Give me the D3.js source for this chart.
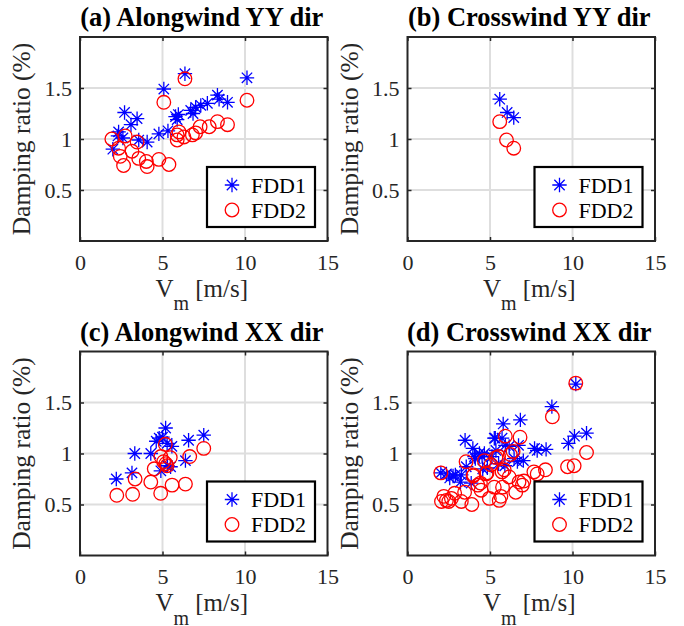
<!DOCTYPE html>
<html><head><meta charset="utf-8">
<script src="https://cdn.jsdelivr.net/npm/d3@7"></script>
<style>body{margin:0;background:#fff}svg{display:block}</style></head>
<body><svg id="chart" width="684" height="626"></svg>
<script>
// ---------- data ----------
const xTicks = [0, 5, 10, 15];
const yTicks = [0.5, 1, 1.5];
const yTickLabels = ["0.5", "1", "1.5"];
const seriesNames = ["FDD1", "FDD2"];
const panelTitles = ["(a) Alongwind YY dir", "(b) Crosswind YY dir", "(c) Alongwind XX dir", "(d) Crosswind XX dir"];
const yLabel = "Damping ratio (%)";

// [Vm, damping ratio]
const aFDD1 = [[1.99,0.90],[2.34,1.07],[2.70,1.26],[2.30,1.03],[2.60,1.01],[3.09,1.14],[3.46,1.20],[3.56,0.99],[4.07,0.97],[4.78,1.05],[5.33,1.08],[5.08,1.49],[6.36,1.64],[5.79,1.22],[5.96,1.24],[5.89,1.19],[6.71,1.28],[6.85,1.25],[7.01,1.31],[7.32,1.33],[7.72,1.35],[8.33,1.43],[8.43,1.39],[8.94,1.36],[10.12,1.60]];
const aFDD2 = [[1.93,1.00],[2.34,0.91],[2.44,0.83],[2.64,0.74],[2.74,1.03],[3.15,0.88],[3.46,0.97],[3.56,0.81],[4.02,0.78],[4.07,0.73],[4.78,0.80],[5.39,0.75],[5.08,1.36],[6.36,1.59],[5.89,1.04],[5.89,0.99],[6.30,1.02],[6.81,1.04],[7.01,1.06],[7.28,1.12],[7.83,1.12],[8.33,1.17],[8.94,1.14],[10.12,1.38],[6.00,1.07]];
const bFDD1 = [[5.59,1.39],[6.04,1.26],[6.44,1.21]];
const bFDD2 = [[5.59,1.17],[6.00,0.99],[6.44,0.91]];
const cFDD1 = [[2.20,0.75],[3.15,0.81],[3.32,1.00],[4.29,1.00],[4.62,1.12],[4.80,1.15],[5.19,1.25],[5.00,1.16],[5.28,1.10],[5.57,1.07],[4.90,0.83],[5.30,0.88],[5.49,0.87],[6.39,0.93],[6.58,1.13],[7.50,1.18]];
const cFDD2 = [[2.23,0.59],[3.19,0.60],[3.34,0.75],[4.29,0.72],[4.89,0.61],[5.58,0.69],[6.39,0.70],[4.50,0.85],[4.90,0.97],[5.17,1.09],[5.07,0.92],[5.27,0.88],[5.47,0.96],[6.65,0.97],[7.50,1.05],[5.20,0.90]];
const dFDD1 = [[2.02,0.81],[2.36,0.80],[2.56,0.76],[2.76,0.78],[2.90,0.79],[3.21,0.72],[3.26,0.79],[3.49,1.13],[3.56,0.87],[3.96,1.05],[4.06,0.97],[4.11,0.95],[4.36,1.00],[4.52,0.97],[4.66,1.00],[3.86,0.71],[4.56,0.85],[4.84,0.86],[5.12,0.97],[5.26,1.15],[5.32,1.15],[5.36,1.03],[5.52,0.90],[5.80,1.29],[5.73,1.15],[5.93,1.08],[5.90,0.88],[6.16,1.07],[6.46,0.95],[6.66,0.92],[6.73,1.08],[6.84,1.33],[7.02,0.93],[7.70,1.05],[7.86,1.03],[8.40,1.04],[8.75,1.46],[9.75,1.10],[10.12,1.17],[10.85,1.20],[10.20,1.68]];
const dFDD2 = [[2.02,0.81],[2.20,0.58],[2.36,0.54],[2.50,0.53],[2.66,0.56],[2.06,0.53],[2.86,0.61],[3.26,0.53],[3.46,0.62],[3.55,0.92],[3.90,0.50],[3.98,0.78],[4.26,0.69],[4.46,0.64],[4.66,0.93],[4.76,0.80],[4.82,0.81],[4.96,0.56],[5.06,0.89],[5.26,0.67],[5.36,0.96],[5.52,0.97],[5.56,0.54],[5.66,0.58],[5.73,0.82],[5.76,0.67],[5.86,0.84],[5.93,1.17],[6.16,0.77],[6.23,0.99],[6.40,1.02],[6.56,0.62],[6.76,0.72],[6.82,1.16],[6.96,0.69],[7.05,0.73],[7.66,0.82],[7.86,0.80],[8.36,0.84],[8.78,1.36],[9.70,0.87],[10.10,0.88],[10.85,1.01],[10.20,1.69],[4.42,0.71],[4.01,0.79]];

const panelData = [[aFDD1, aFDD2], [bFDD1, bFDD2], [cFDD1, cFDD2], [dFDD1, dFDD2]];

// ---------- layout ----------
const W = 247.5, H = 204;
const origins = [[80, 37], [407.5, 37], [80, 351.5], [407.5, 351.5]];
const FONT = "'Liberation Serif','Times New Roman',serif";
const axisCol = "#262626";
const colors = ["#0000ff", "#ff0000"];

const svg = d3.select("#chart");

function starPath(r) {
  const d = r * 0.72;
  return `M${-r},0L${r},0M0,${-r}L0,${r}M${-d},${-d}L${d},${d}M${-d},${d}L${d},${-d}`;
}
function drawMarker(g, kind, cx, cy) {
  if (kind === 0) {
    g.append("path").attr("d", starPath(7.2)).attr("transform", `translate(${cx},${cy})`)
      .attr("fill", "none").attr("stroke", colors[0]).attr("stroke-width", 1.3);
  } else {
    g.append("circle").attr("cx", cx).attr("cy", cy).attr("r", 6.8)
      .attr("fill", "none").attr("stroke", colors[1]).attr("stroke-width", 1.3);
  }
}

panelData.forEach((series, i) => {
  const [x0, y0] = origins[i];
  const x = d3.scaleLinear().domain([0, 15]).range([x0, x0 + W]);
  const y = d3.scaleLinear().domain([0, 2]).range([y0 + H, y0]);
  const g = svg.append("g");

  // grid
  g.selectAll(".gx").data(xTicks.slice(1, -1)).join("line")
    .attr("x1", d => x(d)).attr("x2", d => x(d)).attr("y1", y0).attr("y2", y0 + H)
    .attr("stroke", "#dedede").attr("stroke-width", 2);
  g.selectAll(".gy").data(yTicks).join("line")
    .attr("x1", x0).attr("x2", x0 + W).attr("y1", d => y(d)).attr("y2", d => y(d))
    .attr("stroke", "#dedede").attr("stroke-width", 2);

  // axes
  const ax = g.append("g").attr("transform", `translate(0,${y0 + H})`)
    .call(d3.axisBottom(x).tickValues(xTicks).tickSizeInner(-4).tickSizeOuter(0).tickPadding(13).tickFormat(d3.format("d")));
  const ay = g.append("g").attr("transform", `translate(${x0},0)`)
    .call(d3.axisLeft(y).tickValues(yTicks).tickSizeInner(-4).tickSizeOuter(0).tickPadding(8).tickFormat((d, k) => yTickLabels[k]));
  const at = g.append("g").attr("transform", `translate(0,${y0})`)
    .call(d3.axisTop(x).tickValues(xTicks).tickSizeInner(-4).tickSizeOuter(0).tickFormat(""));
  const ar = g.append("g").attr("transform", `translate(${x0 + W},0)`)
    .call(d3.axisRight(y).tickValues(yTicks).tickSizeInner(-4).tickSizeOuter(0).tickFormat(""));
  [ax, ay, at, ar].forEach(a => {
    a.attr("font-family", FONT);
    a.select(".domain").remove();
    a.selectAll("line").attr("stroke", axisCol).attr("stroke-width", 1.5);
    a.selectAll("text").attr("font-family", FONT).attr("font-size", 22).attr("fill", axisCol);
  });
  g.append("rect").attr("x", x0).attr("y", y0).attr("width", W).attr("height", H)
    .attr("fill", "none").attr("stroke", axisCol).attr("stroke-width", 2);

  // data
  const dg = g.append("g");
  series.forEach((pts, k) => pts.forEach(p => drawMarker(dg, k, x(p[0]), y(p[1]))));

  // legend
  const lx = x0 + 127, ly = y0 + 130;
  const lg = g.append("g");
  lg.append("rect").attr("x", lx).attr("y", ly).attr("width", 108).attr("height", 60)
    .attr("fill", "#fff").attr("stroke", "#000").attr("stroke-width", 2.2);
  seriesNames.forEach((nm, k) => {
    const ry = ly + 18 + k * 25;
    drawMarker(lg, k, lx + 25, ry);
    lg.append("text").attr("x", lx + 44).attr("y", ry + 7.5).text(nm)
      .attr("font-family", FONT).attr("font-size", 22).attr("fill", "#000");
  });

  // title
  g.append("text").attr("x", x0 + W / 2 - 2).attr("y", y0 - 11).attr("text-anchor", "middle")
    .attr("font-family", FONT).attr("font-weight", "bold").attr("font-size", 26.5).attr("fill", "#000")
    .text(panelTitles[i]);

  // y label
  const yc = y0 + H / 2, xl = x0 - 50;
  g.append("text").attr("transform", `translate(${xl},${yc}) rotate(-90)`).attr("text-anchor", "middle")
    .attr("font-family", FONT).attr("font-size", 25.5).attr("fill", axisCol).text(yLabel);

  // x label V_m [m/s]
  const xt = g.append("text").attr("x", x0 + W / 2 - 2).attr("y", y0 + H + 55.5).attr("text-anchor", "middle")
    .attr("font-family", FONT).attr("font-size", 25).attr("fill", axisCol);
  xt.append("tspan").text("V");
  xt.append("tspan").attr("dy", 13.5).attr("font-size", 20).text("m");
  xt.append("tspan").attr("dy", -13.5).text(" [m/s]");
});
</script></body></html>
